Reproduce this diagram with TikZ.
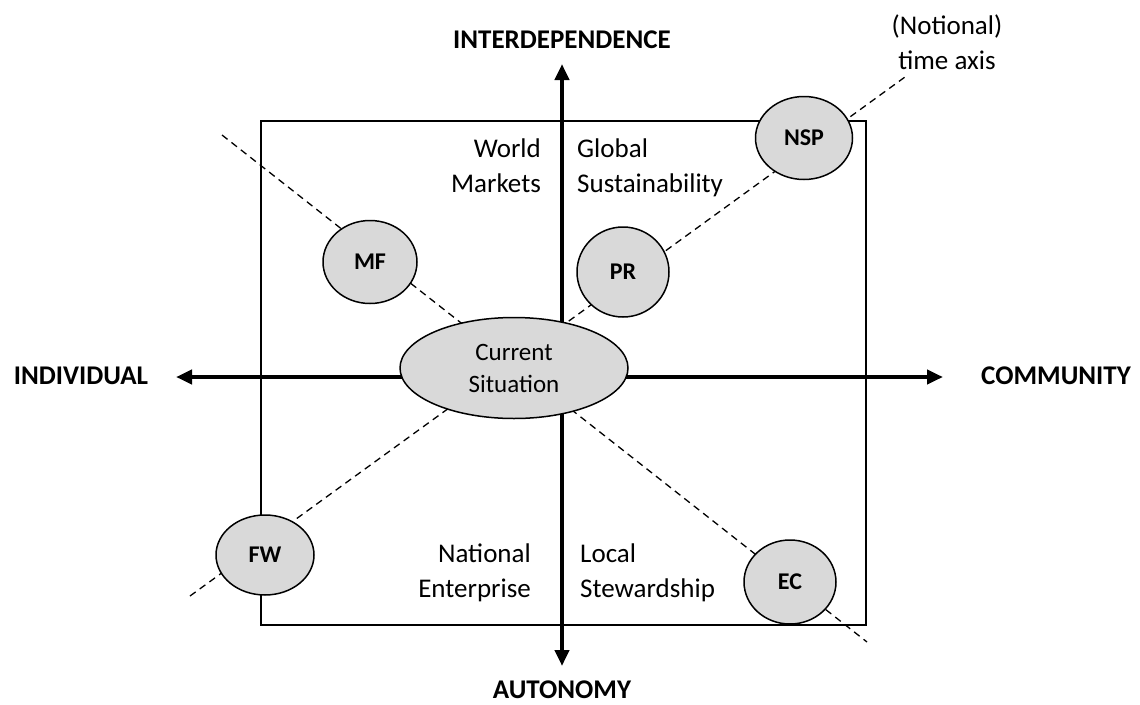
\documentclass[tikz,border=0pt]{standalone}
\usepackage{fontspec}
\setmainfont{Carlito}
\usetikzlibrary{arrows.meta,shapes.geometric}
\definecolor{bubble}{RGB}{217,217,217}
\begin{document}
\begin{tikzpicture}[x=1pt,y=-1pt,
  bubble/.style={ellipse,draw=black,line width=1.5pt,fill=bubble,inner sep=0pt,
    font=\fontsize{24}{28}\selectfont\bfseries},
  axislabel/.style={font=\fontsize{27}{32}\selectfont\bfseries,inner sep=0pt},
  quad/.style={font=\fontsize{27}{35}\selectfont,inner sep=0pt},
  axis/.style={line width=4pt,-{Triangle[length=16pt,width=14pt]}},
  timeline/.style={dashed,dash pattern=on 7pt off 5pt,line width=1.3pt}]
\useasboundingbox (0,0) rectangle (1140,704);
% frame
\draw[line width=1.5pt] (261,121) rectangle (866,625);
% dashed lines
\coordinate (d1a) at (190,596);
\coordinate (d1b) at (905,77);
\coordinate (d2a) at (222,135);
\coordinate (d2b) at (867,642);
\draw[timeline] (d1a) -- (d1b);
\draw[timeline] (d2a) -- (d2b);
% axes
\coordinate (o) at (562,377);
\coordinate (tipT) at (562,64);
\coordinate (tipB) at (562,666);
\coordinate (tipL) at (176,377);
\coordinate (tipR) at (943,377);
\draw[axis] (o) -- (tipT);
\draw[axis] (o) -- (tipB);
\draw[axis] (o) -- (tipL);
\draw[axis] (o) -- (tipR);
% axis labels
\node[axislabel] (inter) at (562,40) {INTERDEPENDENCE};
\node[axislabel] (auto) at (562,690) {AUTONOMY};
\node[axislabel] (indiv) at (81,376) {INDIVIDUAL};
\node[axislabel] (comm) at (1056,376) {COMMUNITY};
% quadrant texts
\node[quad,anchor=east,align=right] (wm) at (541,166) {World\\Markets};
\node[quad,anchor=west,align=left] (gs) at (577,168) {Global\\Sustainability};
\node[quad,anchor=east,align=right] (ne) at (531,573) {National\\Enterprise};
\node[quad,anchor=west,align=left] (ls) at (580,573) {Local\\Stewardship};
\node[quad,align=center] (notional) at (947,42) {(Notional)\\time axis};
% bubbles
\node[bubble,minimum width=228pt,minimum height=101pt,
  font=\fontsize{25}{32}\selectfont,align=center] (cs) at (514,368) {Current\\Situation};
\node[bubble,minimum width=94pt,minimum height=83pt] (mf) at (370,262) {MF};
\node[bubble,minimum width=92pt,minimum height=90pt] (pr) at (623,272) {PR};
\node[bubble,minimum width=97pt,minimum height=83pt] (nsp) at (804,138) {NSP};
\node[bubble,minimum width=98pt,minimum height=80pt] (fw) at (265,555) {FW};
\node[bubble,minimum width=92pt,minimum height=84pt] (ec) at (790,582) {EC};
\end{tikzpicture}
\end{document}
